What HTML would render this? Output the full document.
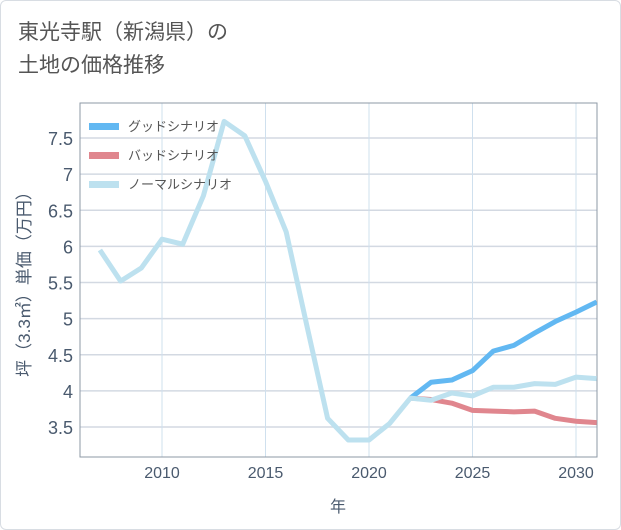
<!DOCTYPE html>
<html><head><meta charset="utf-8"><style>
body{margin:0;background:#fff;font-family:"Liberation Sans","Noto Sans CJK JP",sans-serif;}
.card{position:absolute;left:0;top:0;width:619px;height:528px;border:1px solid #d8dde3;border-radius:6px;background:#fff;}
.title{position:absolute;left:18px;top:16px;font-size:21px;line-height:33px;color:#555;font-family:"Liberation Sans","Noto Sans CJK JP",sans-serif;}
</style></head><body>
<div class="card"></div>
<div class="title">東光寺駅（新潟県）の<br>土地の価格推移</div>
<svg id="c" width="621" height="530" style="position:absolute;left:0;top:0"></svg>
<script>
const years=[2007,2008,2009,2010,2011,2012,2013,2014,2015,2016,2017,2018,2019,2020,2021,2022,2023,2024,2025,2026,2027,2028,2029,2030,2031];
const normal=[5.95,5.52,5.7,6.1,6.03,6.7,7.73,7.53,6.9,6.2,4.9,3.62,3.32,3.32,3.55,3.9,3.87,3.97,3.93,4.05,4.05,4.1,4.09,4.19,4.17];
const goodYears=[2022,2023,2024,2025,2026,2027,2028,2029,2030,2031];
const good=[3.9,4.12,4.15,4.28,4.55,4.63,4.8,4.96,5.09,5.23];
const bad=[3.9,3.88,3.83,3.73,3.72,3.71,3.72,3.62,3.58,3.56];
const xTicks=[2010,2015,2020,2025,2030];
const yTicks=[3.5,4,4.5,5,5.5,6,6.5,7,7.5];
const L=80,R=597,T=103,B=457;
const x=v=>162+(v-2010)*20.7;
const y=v=>427-(v-3.5)*72.25;
const s=document.getElementById('c'),NS='http://www.w3.org/2000/svg';
function mk(t,a,p){const e=document.createElementNS(NS,t);for(const k in a)e.setAttribute(k,a[k]);(p||s).appendChild(e);return e;}
yTicks.forEach(v=>{
 const g=mk('line',{x1:L,x2:R,y1:y(v),y2:y(v),stroke:'#d3d9e2','stroke-width':1.5});
 
 
 const t=mk('text',{x:L-7,y:y(v)+7,'text-anchor':'end','font-size':18,fill:'#4a5a6e'});t.textContent=v;
 
 
});
xTicks.forEach(v=>{
 const g=mk('line',{x1:x(v),x2:x(v),y1:T,y2:B,stroke:'#cfe0ee','stroke-width':1});
 
 
 const t=mk('text',{x:x(v),y:B+21,'text-anchor':'middle','font-size':16,fill:'#4a5a6e'});t.textContent=v;
 
 
});
const fr=mk('rect',{x:L,y:T,width:R-L,height:B-T,fill:'none',stroke:'#8e99a6','stroke-width':1});


const xt=mk('text',{x:338,y:512,'text-anchor':'middle','font-size':16,fill:'#4a5a6e'});xt.textContent='年';


const yt=mk('text',{x:0,y:0,'text-anchor':'middle','font-size':17,fill:'#4a5a6e',transform:'translate(30,280) rotate(-90)'});yt.textContent='坪（3.3㎡）単価（万円）';


mk('clipPath',{id:'cp'});mk('rect',{x:L,y:T,width:R-L,height:B-T},s.lastChild);
function line(xs,vs,col,name){
 const p=mk('polyline',{points:xs.map((v,i)=>x(v)+','+y(vs[i])).join(' '),fill:'none',stroke:col,'stroke-width':5,'stroke-linejoin':'round','clip-path':'url(#cp)'});
 
 
}
line(goodYears,bad,'#e0868e','bad-scenario-line');
line(goodYears,good,'#62b8f2','good-scenario-line');
line(years,normal,'#bde1ef','normal-scenario-line');
const leg=[['グッドシナリオ','#62b8f2'],['バッドシナリオ','#e0868e'],['ノーマルシナリオ','#bde1ef']];
leg.forEach((d,i)=>{
 const ly=126+i*29;
 const r=mk('rect',{x:89,y:ly-3,width:30,height:7,fill:d[1]});
 
 
 const t=mk('text',{x:128,y:ly+5,'font-size':13,fill:'#555'});t.textContent=d[0];
 
 
});
</script>
</body></html>
